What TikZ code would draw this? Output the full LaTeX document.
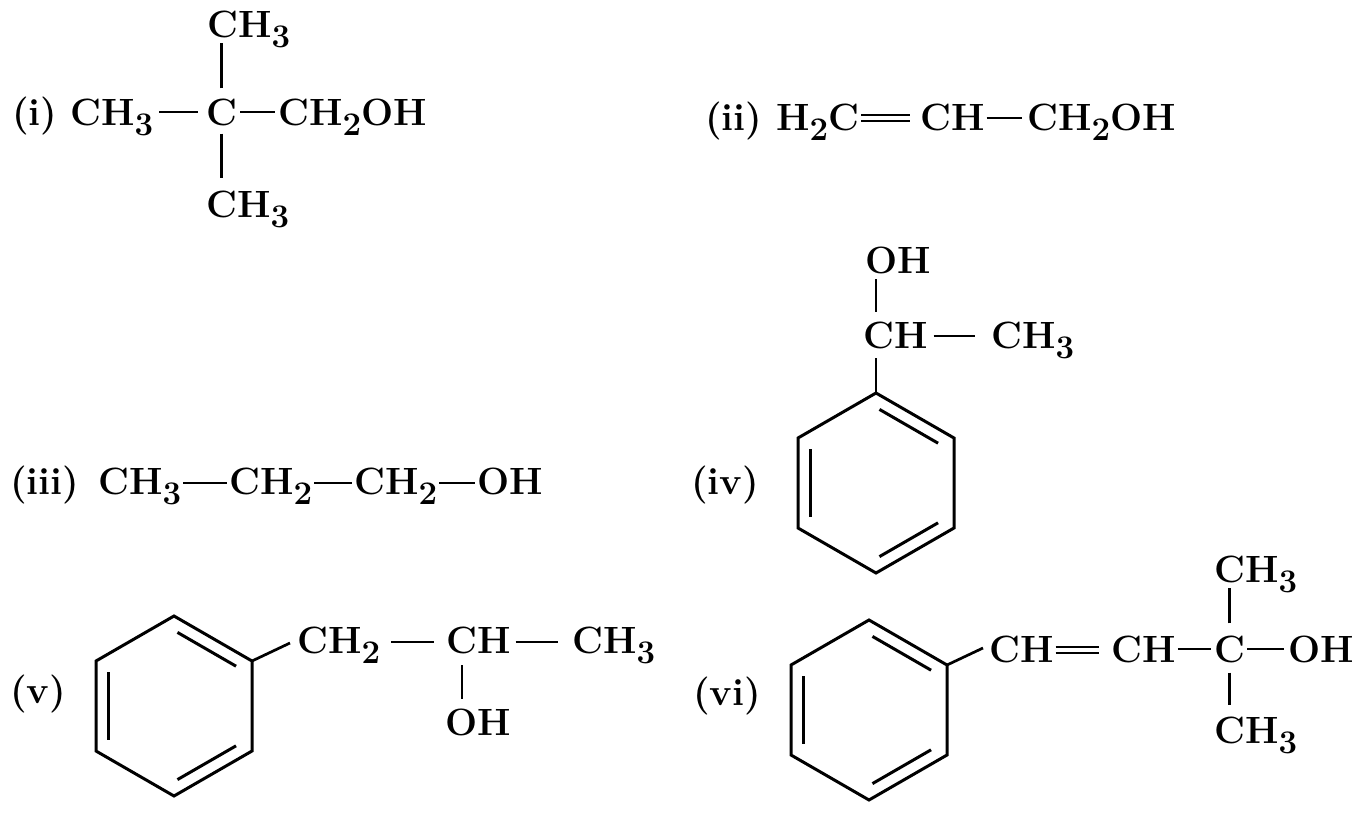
\documentclass[tikz,border=0pt]{standalone}
\usetikzlibrary{calc}
\newcommand{\chs}[1]{\raisebox{-10pt}{\fontsize{33}{33}\selectfont #1}}
\newcommand{\hbond}[5][12]{\draw[bondline] ($(#2.base east)+(#4,-#1)$) -- ($(#3.base west)+(-#5,-#1)$);}
\newcommand{\dbond}[4]{%
  \draw[bondline] ($(#1.base east)+(#3,-15)$) -- ($(#2.base west)+(-#4,-15)$);
  \draw[bondline] ($(#1.base east)+(#3,-9)$) -- ($(#2.base west)+(-#4,-9)$);}
\newcommand{\benz}[3]{%
  \coordinate (#1c) at (#2,#3);
  \coordinate (#1T) at (#2,#3-90);
  \coordinate (#1UR) at (#2+78,#3-45);
  \coordinate (#1LR) at (#2+78,#3+45);
  \coordinate (#1B) at (#2,#3+90);
  \coordinate (#1LL) at (#2-78,#3+45);
  \coordinate (#1UL) at (#2-78,#3-45);
  \draw[ringline] (#1T)--(#1UR)--(#1LR)--(#1B)--(#1LL)--(#1UL)--cycle;
  \draw[ringline,shorten <=4pt,shorten >=4pt] ($(#1c)!0.84!(#1T)$) -- ($(#1c)!0.84!(#1UR)$);
  \draw[ringline,shorten <=4pt,shorten >=4pt] ($(#1c)!0.84!(#1LR)$) -- ($(#1c)!0.84!(#1B)$);
  \draw[ringline,shorten <=4pt,shorten >=4pt] ($(#1c)!0.84!(#1LL)$) -- ($(#1c)!0.84!(#1UL)$);}
\begin{document}
\begin{tikzpicture}[x=1pt,y=-1pt,
  atom/.style={inner sep=0pt,anchor=base west,font=\fontsize{38}{42}\selectfont\bfseries},
  bondline/.style={line width=2.7pt},
  ringline/.style={line width=3pt}]
\fill[white] (0,0) rectangle (1362,817);
\useasboundingbox (0,0) rectangle (1362,817);

% (i)
\node[atom] (li) at (12,125) {(i)};
\node[atom] (i1) at (70,125) {CH\chs{3}};
\node[atom] (i2) at (206,125) {C};
\node[atom] (i3) at (278,125) {CH\chs{2}OH};
\node[atom] (i4) at (207,37) {CH\chs{3}};
\node[atom] (i5) at (206,217) {CH\chs{3}};
\hbond[13]{i1}{i2}{6}{8}
\hbond[13]{i2}{i3}{3}{3}
\draw[bondline] ($(i2.north)+(0,-10)$) -- ($(i2.north |- i4.base)+(0,6)$);
\draw[bondline] ($(i2.south)+(0,8)$) -- ($(i2.south |- i5.north)+(0,-12)$);

% (ii)
\node[atom] (lii) at (705,130) {(ii)};
\node[atom] (ii1) at (776,130) {H\chs{2}C};
\node[atom] (ii2) at (920,130) {CH};
\node[atom] (ii3) at (1027,130) {CH\chs{2}OH};
\dbond{ii1}{ii2}{2}{10}
\hbond{ii2}{ii3}{2}{5}

% (iii)
\node[atom] (liii) at (10,494) {(iii)};
\node[atom] (iii1) at (98,494) {CH\chs{3}};
\node[atom] (iii2) at (229,494) {CH\chs{2}};
\node[atom] (iii3) at (354,494) {CH\chs{2}};
\node[atom] (iii4) at (477,494) {OH};
\hbond[11]{iii1}{iii2}{2}{2}
\hbond[11]{iii2}{iii3}{2}{2}
\hbond[11]{iii3}{iii4}{2}{2}

% (iv)
\node[atom] (liv) at (691,494) {(iv)};
\node[atom] (iv1) at (865,273) {OH};
\node[atom] (iv2) at (863,348) {CH};
\node[atom] (iv3) at (991,348) {CH\chs{3}};
\hbond{iv2}{iv3}{6}{16}
\benz{iv}{876}{483}
\draw[bondline] ($(ivT |- iv1.base)+(0,6)$) -- ($(ivT |- iv2.base)+(0,-36)$);
\draw[bondline] ($(ivT |- iv2.base)+(0,10)$) -- (ivT);

% (v)
\node[atom] (lv) at (10,703) {(v)};
\node[atom] (v1) at (297,653) {CH\chs{2}};
\node[atom] (v2) at (446,653) {CH};
\node[atom] (v3) at (572,653) {CH\chs{3}};
\node[atom] (v4) at (445,735) {OH};
\benz{v}{174}{706}
\draw[bondline] (vUR) -- ($(v1.base west)+(-7,-10)$);
\hbond[11]{v1}{v2}{11}{12}
\hbond[11]{v2}{v3}{5}{14}
\draw[bondline] ($(v2.base west)+(16,12)$) -- ($(v2.base west |- v4.base)+(16,-36)$);

% (vi)
\node[atom] (lvi) at (693,705) {(vi)};
\node[atom] (vi1) at (989,662) {CH};
\node[atom] (vi2) at (1111,662) {CH};
\node[atom] (vi3) at (1214,662) {C};
\node[atom] (vi4) at (1288,662) {OH};
\node[atom] (vi5) at (1214,582) {CH\chs{3}};
\node[atom] (vi6) at (1214,743) {CH\chs{3}};
\benz{vi}{869}{710}
\draw[bondline] (viUR) -- ($(vi1.base west)+(-6,-14)$);
\dbond{vi1}{vi2}{2}{12}
\hbond[13]{vi2}{vi3}{2}{3}
\hbond[13]{vi3}{vi4}{2}{4}
\draw[bondline] ($(vi3.north)+(0,-12)$) -- ($(vi3.north |- vi5.base)+(0,6)$);
\draw[bondline] ($(vi3.south)+(0,10)$) -- ($(vi3.south |- vi6.north)+(0,-11)$);
\end{tikzpicture}
\end{document}
